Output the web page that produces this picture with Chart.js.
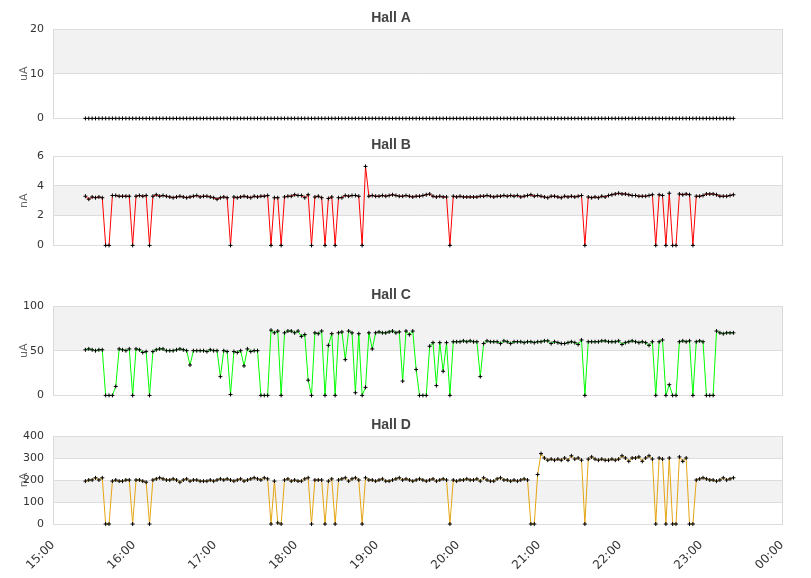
<!DOCTYPE html>
<html><head><meta charset="utf-8">
<script src="https://cdn.jsdelivr.net/npm/chart.js@4.4.0/dist/chart.umd.min.js"></script>
<style>
html,body{margin:0;padding:0;background:#fff;}
body{width:811px;height:578px;overflow:hidden;position:relative;}
canvas{position:absolute;left:0;}
</style></head><body>
<canvas id="cA" width="811" height="134" style="top:0px"></canvas>
<canvas id="cB" width="811" height="134" style="top:127px"></canvas>
<canvas id="cC" width="811" height="134" style="top:277px"></canvas>
<canvas id="cD" width="811" height="171" style="top:407px"></canvas>
<script>
// Sampling timeline (minutes after midnight)
const sampleStartMin = 924;   // 15:24
const sampleStepMin = 2.5;
const axisStartMin = 900;     // 15:00
const axisEndMin = 1440;      // 00:00

const titles = ['Hall A', 'Hall B', 'Hall C', 'Hall D'];
const units = ['uA', 'nA', 'uA', 'nA'];

const hallA = [
0,0,0,0,0,0,0,0,0,0, 0,0,0,0,0,0,0,0,0,0, 0,0,0,0,0,0,0,0,0,0, 0,0,0,0,0,0,0,0,0,0,
0,0,0,0,0,0,0,0,0,0, 0,0,0,0,0,0,0,0,0,0, 0,0,0,0,0,0,0,0,0,0, 0,0,0,0,0,0,0,0,0,0,
0,0,0,0,0,0,0,0,0,0, 0,0,0,0,0,0,0,0,0,0, 0,0,0,0,0,0,0,0,0,0, 0,0,0,0,0,0,0,0,0,0,
0,0,0,0,0,0,0,0,0,0, 0,0,0,0,0,0,0,0,0,0, 0,0,0,0,0,0,0,0,0,0, 0,0,0,0,0,0,0,0,0,0,
0,0,0,0,0,0,0,0,0,0, 0,0,0,0,0,0,0,0,0,0, 0,0,0,0,0,0,0,0,0,0, 0,0,0
];

const hallB = [
3.3, 3.1, 3.25, 3.2, 3.25, 3.2, 0, 0, 3.35, 3.35,
3.3, 3.3, 3.3, 3.3, 0, 3.3, 3.35, 3.3, 3.35, 0,
3.3, 3.4, 3.3, 3.35, 3.3, 3.25, 3.2, 3.25, 3.3, 3.25,
3.2, 3.25, 3.3, 3.35, 3.25, 3.3, 3.3, 3.25, 3.2, 3.1,
3.2, 3.25, 3.2, 0, 3.25, 3.2, 3.25, 3.3, 3.25, 3.2,
3.3, 3.25, 3.3, 3.3, 3.35, 0, 3.2, 3.2, 0, 3.25,
3.3, 3.3, 3.4, 3.35, 3.35, 3.2, 3.4, 0, 3.25, 3.3,
3.2, 0, 3.15, 3.25, 0, 3.2, 3.2, 3.35, 3.3, 3.35,
3.35, 3.3, 0, 5.3, 3.3, 3.35, 3.3, 3.3, 3.35, 3.3,
3.35, 3.4, 3.35, 3.3, 3.3, 3.35, 3.3, 3.25, 3.3, 3.3,
3.35, 3.4, 3.45, 3.3, 3.25, 3.3, 3.25, 3.25, 0, 3.3,
3.25, 3.3, 3.25, 3.25, 3.25, 3.25, 3.25, 3.3, 3.3, 3.35,
3.3, 3.25, 3.3, 3.3, 3.35, 3.3, 3.35, 3.3, 3.35, 3.25,
3.3, 3.35, 3.4, 3.3, 3.35, 3.3, 3.25, 3.2, 3.3, 3.3,
3.25, 3.2, 3.3, 3.25, 3.3, 3.25, 3.3, 3.35, 0, 3.25,
3.2, 3.25, 3.2, 3.3, 3.25, 3.35, 3.4, 3.45, 3.5, 3.45,
3.45, 3.4, 3.35, 3.35, 3.3, 3.3, 3.3, 3.35, 3.4, 0,
3.4, 3.35, 0, 3.5, 0, 0, 3.45, 3.4, 3.45, 3.4,
0, 3.3, 3.3, 3.35, 3.45, 3.45, 3.45, 3.4, 3.3, 3.3,
3.3, 3.35, 3.4
];

const hallC = [
51, 52, 51, 50, 51, 51, 0, 0, 0, 10,
52, 51, 50, 52, 0, 52, 51, 48, 49, 0,
49, 51, 52, 52, 50, 50, 50, 51, 52, 51,
50, 34, 50, 50, 50, 50, 49, 51, 50, 50,
21, 50, 49, 1, 49, 48, 50, 33, 52, 49,
50, 50, 0, 0, 0, 73, 70, 72, 0, 70,
72, 72, 70, 72, 66, 68, 17, 0, 70, 69,
72, 0, 56, 69, 0, 70, 71, 40, 72, 70,
3, 69, 0, 9, 70, 52, 70, 71, 70, 70,
71, 72, 70, 71, 16, 72, 68, 72, 29, 0,
0, 0, 55, 59, 11, 59, 27, 59, 0, 60,
60, 60, 61, 60, 61, 60, 60, 21, 58, 61,
60, 60, 60, 58, 61, 60, 58, 60, 60, 60,
59, 60, 60, 59, 60, 60, 61, 61, 58, 60,
59, 58, 58, 59, 60, 59, 57, 62, 0, 60,
60, 60, 60, 61, 61, 60, 60, 60, 61, 57,
59, 60, 61, 60, 59, 60, 59, 56, 60, 0,
60, 62, 0, 12, 0, 0, 60, 61, 60, 61,
0, 60, 61, 60, 0, 0, 0, 72, 70, 69,
70, 70, 70
];

const hallD = [
195, 200, 200, 210, 200, 210, 0, 0, 195, 200,
195, 195, 200, 200, 0, 200, 200, 195, 190, 0,
200, 205, 210, 205, 200, 200, 205, 200, 190, 200,
205, 195, 200, 200, 195, 195, 195, 200, 195, 200,
205, 200, 205, 200, 195, 200, 205, 195, 200, 205,
210, 205, 200, 210, 205, 0, 195, 5, 0, 200,
205, 195, 200, 195, 195, 205, 210, 0, 200, 200,
200, 0, 195, 205, 0, 200, 205, 210, 195, 205,
210, 200, 0, 210, 200, 200, 195, 200, 205, 195,
195, 200, 205, 210, 200, 205, 200, 195, 200, 205,
200, 195, 200, 205, 195, 200, 205, 200, 0, 200,
195, 200, 200, 205, 200, 200, 205, 195, 210, 200,
195, 195, 205, 210, 200, 200, 195, 200, 195, 200,
205, 200, 0, 0, 225, 320, 300, 290, 295, 290,
295, 290, 300, 290, 310, 295, 300, 290, 0, 295,
305, 295, 290, 295, 290, 290, 295, 290, 295, 310,
300, 285, 300, 300, 305, 285, 300, 310, 295, 0,
300, 295, 0, 300, 0, 0, 305, 285, 300, 0,
0, 200, 205, 210, 205, 200, 200, 195, 200, 210,
200, 205, 210
];

const yMaxes = [20, 6, 100, 400];
const ySteps = [10, 2, 50, 100];

const plotFrame = {
  id: 'plotFrame',
  beforeDraw(chart) {
    const { ctx, chartArea: a } = chart;
    const y = chart.scales.y;
    ctx.save();
    ctx.fillStyle = '#f2f2f2';
    const ticks = y.ticks;
    for (let k = 0; k < ticks.length - 1; k++) {
      if (k % 2 === 1) {
        const y1 = y.getPixelForValue(ticks[k].value);
        const y2 = y.getPixelForValue(ticks[k + 1].value);
        ctx.fillRect(a.left, y2, a.right - a.left, y1 - y2);
      }
    }
    ctx.strokeStyle = '#d9d9d9';
    ctx.lineWidth = 1;
    ctx.strokeRect(Math.round(a.left) + 0.5, Math.round(a.top) + 0.5,
      Math.round(a.right - a.left), Math.round(a.bottom - a.top));
    ctx.restore();
  }
};

function hhmm(v) {
  const h = Math.floor(v / 60) % 24;
  return (h < 10 ? '0' : '') + h + ':00';
}

function makeChart(id, idx, values, color, showX) {
  const pts = values.map((v, i) => ({ x: sampleStartMin + i * sampleStepMin, y: v }));
  const canvas = document.getElementById(id);
  const H = canvas.height;
  return new Chart(canvas, {
    type: 'line',
    data: {
      datasets: [{
        label: titles[idx],
        data: pts,
        borderColor: color,
        borderWidth: 1,
        pointStyle: 'cross',
        pointRadius: 2,
        pointBorderColor: '#000',
        pointBorderWidth: 1,
        pointBackgroundColor: '#000',
        tension: 0,
        clip: false
      }]
    },
    options: {
      responsive: false,
      animation: false,
      devicePixelRatio: 1,
      layout: { padding: { left: 0, right: 29, top: 0, bottom: showX ? 0 : 8 } },
      plugins: {
        legend: { display: false },
        tooltip: { enabled: false },
        title: {
          display: true, text: titles[idx], color: '#444',
          font: { family: 'Liberation Sans', size: 14, weight: 'bold' },
          padding: { top: 10, bottom: 2.2 }
        }
      },
      scales: {
        x: {
          type: 'linear', min: axisStartMin, max: axisEndMin,
          display: showX,
          grid: { display: false },
          border: { display: false },
          ticks: {
            stepSize: 60, autoSkip: false, minRotation: 45, maxRotation: 45,
            color: '#333', padding: 6,
            font: { family: 'DejaVu Sans', size: 12 },
            callback: (v) => hhmm(v)
          },
          afterFit(s) { if (showX) s.height = H - 117; }
        },
        y: {
          min: 0, max: yMaxes[idx],
          grid: { color: '#dddddd', drawTicks: false },
          border: { display: false },
          ticks: {
            stepSize: ySteps[idx], padding: 9, color: '#333',
            font: { family: 'DejaVu Sans', size: 11 }
          },
          title: {
            display: true, text: units[idx], color: '#666',
            font: { family: 'DejaVu Sans', size: 11 },
            padding: { top: 18, bottom: 0 }
          },
          afterFit(s) { s.width = 53; }
        }
      }
    },
    plugins: [plotFrame]
  });
}

makeChart('cA', 0, hallA, '#cccccc', false);
makeChart('cB', 1, hallB, '#ff0000', false);
makeChart('cC', 2, hallC, '#00ff00', false);
makeChart('cD', 3, hallD, '#e5a514', true);
</script>
</body></html>
